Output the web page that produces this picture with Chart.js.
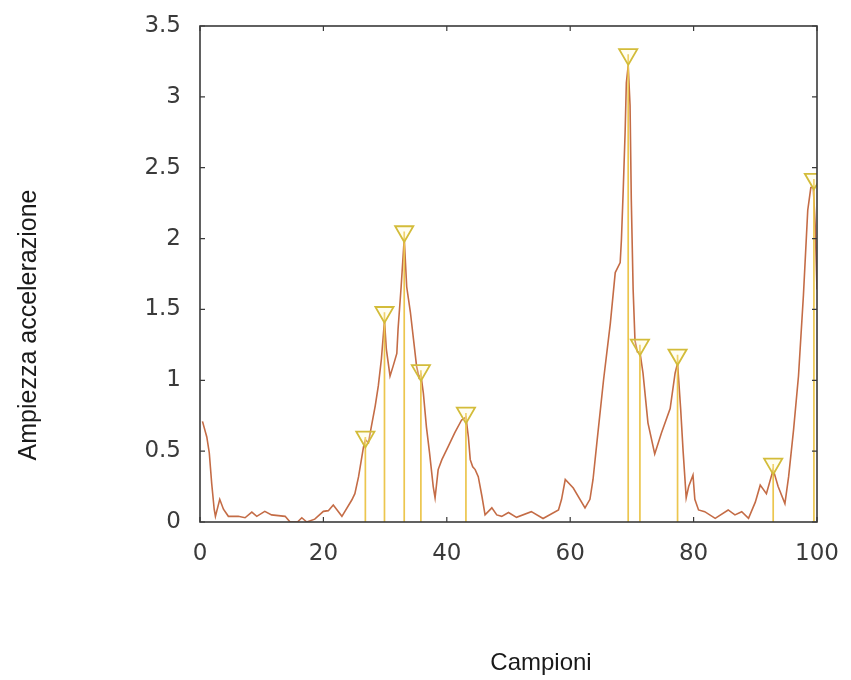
<!DOCTYPE html>
<html>
<head>
<meta charset="utf-8">
<script src="https://cdn.jsdelivr.net/npm/chart.js@4"></script>
<style>
  body{margin:0;background:#fff;}
  canvas{display:block;}
</style>
</head>
<body>
<canvas id="chart" width="851" height="680"></canvas>
<script>
// signal samples
let sampleX = [0.4,1.1,1.5,1.9,2.3,2.5,3.2,3.8,4.6,6.2,7.3,8.4,9.2,10.5,11.6,13.8,14.6,15.8,16.5,17.3,18.6,20,20.8,21.6,23,24.6,25.1,25.7,26.5,26.8,27.3,27.8,28.4,28.9,29.4,29.9,30.2,30.8,31.3,31.9,32.1,32.6,33.1,33.5,34.1,34.6,35.1,35.5,35.8,36.2,36.7,37.2,37.8,38.1,38.6,39.2,40.2,41.3,42.4,43.1,43.5,43.8,44.2,44.6,45.1,45.7,46.2,47.3,48.1,48.9,50,51.3,53.7,55.6,58.1,58.6,59.2,60.5,62.4,63.2,63.7,64.3,65.4,66.5,67.3,68.1,68.3,68.6,68.9,69.1,69.4,69.7,69.9,70.2,70.5,70.9,71.3,71.8,72.6,73.7,74.8,76.2,77,77.4,77.9,78.3,78.8,79.2,79.9,80.2,80.8,81.8,83.5,85.6,86.7,87.8,88.9,90,90.8,91.8,92.9,93.7,94.8,95.4,96.2,97,97.8,98.5,99,99.4,99.7,100];
let sampleY = [0.71,0.6,0.49,0.27,0.09,0.04,0.16,0.09,0.04,0.04,0.03,0.07,0.04,0.075,0.05,0.04,0,0,0.03,0,0.02,0.075,0.08,0.12,0.04,0.155,0.2,0.32,0.53,0.58,0.56,0.68,0.82,0.96,1.15,1.42,1.22,1.03,1.1,1.19,1.36,1.66,2.0,1.66,1.48,1.29,1.1,1.02,1.04,0.91,0.67,0.49,0.25,0.17,0.37,0.44,0.53,0.63,0.72,0.74,0.6,0.44,0.39,0.37,0.32,0.18,0.05,0.1,0.05,0.04,0.067,0.033,0.073,0.025,0.085,0.16,0.3,0.24,0.1,0.16,0.3,0.55,1.0,1.4,1.76,1.83,1.99,2.35,2.75,3.1,3.22,2.94,2.28,1.64,1.28,1.2,1.2,1.05,0.7,0.48,0.63,0.8,1.05,1.12,0.8,0.5,0.17,0.25,0.33,0.16,0.085,0.073,0.026,0.085,0.05,0.073,0.026,0.14,0.26,0.2,0.37,0.25,0.13,0.32,0.65,1.03,1.6,2.2,2.36,2.36,2.1,1.64];

// detected peaks (marker positions)
let peakX = [26.8,29.9,33.1,35.8,43.1,69.4,71.3,77.4,92.9,99.5];
let peakY = [0.6,1.48,2.05,1.07,0.77,3.3,1.25,1.18,0.41,2.42];

let yTicks = [0,0.5,1,1.5,2,2.5,3,3.5];
let xTicks = [0,20,40,60,80,100];

let xTitle = "Campioni";
let yTitle = "Ampiezza accelerazione";

let signal = sampleX.map((x,i) => ({x:x, y:sampleY[i]}));
let stems = [];
peakX.forEach((x,i) => {
  stems.push({x:x, y:0});
  stems.push({x:x, y:peakY[i]});
  stems.push({x:x, y:null});
});
let markers = peakX.map((x,i) => ({x:x, y:peakY[i]}));

// box round the plot, ticks pointing inward, axis titles
const framePlugin = {
  id: "frame",
  afterDraw(chart){
    let ctx = chart.ctx;
    let a = chart.chartArea;
    let xs = chart.scales.x, ys = chart.scales.y;
    ctx.save();
    ctx.strokeStyle = "#3a3a3a";
    ctx.lineWidth = 1.6;
    ctx.strokeRect(a.left, a.top, a.right-a.left, a.bottom-a.top);
    ctx.lineWidth = 1.2;
    ctx.beginPath();
    yTicks.forEach(v => {
      let py = ys.getPixelForValue(v);
      ctx.moveTo(a.left, py); ctx.lineTo(a.left+5, py);
      ctx.moveTo(a.right, py); ctx.lineTo(a.right-5, py);
    });
    xTicks.forEach(v => {
      let px = xs.getPixelForValue(v);
      ctx.moveTo(px, a.bottom); ctx.lineTo(px, a.bottom-5);
      ctx.moveTo(px, a.top); ctx.lineTo(px, a.top+5);
    });
    ctx.stroke();

    ctx.fillStyle = "#1a1a1a";
    ctx.font = "24px 'Liberation Sans', Arial, sans-serif";
    ctx.textAlign = "center";
    ctx.textBaseline = "middle";
    ctx.fillText(xTitle, 541, 663);
    ctx.font = "25px 'Liberation Sans', Arial, sans-serif";
    ctx.translate(29, 325);
    ctx.rotate(-Math.PI/2);
    ctx.fillText(yTitle, 0, 0);
    ctx.restore();
  }
};

new Chart(document.getElementById("chart"), {
  type: "line",
  data: {
    datasets: [
      {
        data: markers,
        showLine: false,
        pointStyle: "triangle",
        pointRotation: 180,
        pointRadius: 10.5,
        pointBorderWidth: 1.8,
        pointBorderColor: "#d3bc3a",
        pointBackgroundColor: "rgba(255,250,200,0.25)",
        order: 1
      },
      {
        data: stems,
        borderColor: "#ecc64e",
        borderWidth: 1.7,
        pointRadius: 0,
        spanGaps: false,
        order: 2
      },
      {
        data: signal,
        borderColor: "#c46c46",
        borderWidth: 1.6,
        pointRadius: 0,
        tension: 0,
        order: 3
      }
    ]
  },
  options: {
    responsive: false,
    animation: false,
    layout: {padding: {left: 0, right: 34, top: 26, bottom: 0}},
    plugins: {legend: {display: false}, tooltip: {enabled: false}},
    scales: {
      x: {
        type: "linear",
        min: 0, max: 100,
        afterBuildTicks(s){ s.ticks = xTicks.map(v => ({value:v})); },
        afterFit(s){ s.height = 158; },
        grid: {display: false},
        border: {display: false},
        ticks: {
          padding: 10,
          color: "#3a3a3a",
          font: {family: "'DejaVu Sans', sans-serif", size: 23}
        }
      },
      y: {
        type: "linear",
        min: 0, max: 3.5,
        afterBuildTicks(s){ s.ticks = yTicks.map(v => ({value:v})); },
        afterFit(s){ s.width = 200; },
        grid: {display: false},
        border: {display: false},
        ticks: {
          padding: 11,
          color: "#3a3a3a",
          callback: v => String(v),
          font: {family: "'DejaVu Sans', sans-serif", size: 23}
        }
      }
    }
  },
  plugins: [framePlugin]
});
</script>
</body>
</html>
